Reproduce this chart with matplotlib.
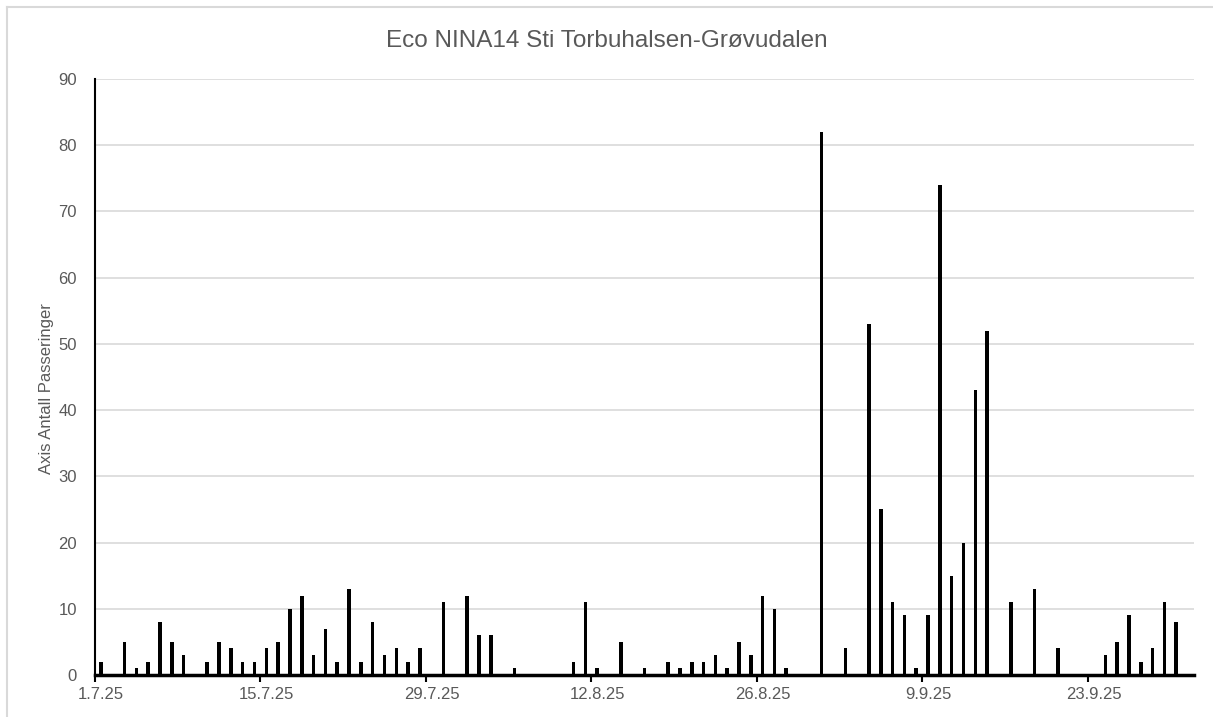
import pandas as pd
import matplotlib
matplotlib.use("Agg")
import matplotlib.pyplot as plt
from matplotlib.lines import Line2D

plt.rcParams["font.family"] = ["Liberation Sans", "DejaVu Sans"]

# daglige passeringer (dager uten passeringer er utelatt)
dates = ["1.7.25", "3.7.25", "4.7.25", "5.7.25", "6.7.25", "7.7.25", "8.7.25",
         "10.7.25", "11.7.25", "12.7.25", "13.7.25", "14.7.25", "15.7.25", "16.7.25",
         "17.7.25", "18.7.25", "19.7.25", "20.7.25", "21.7.25", "22.7.25", "23.7.25",
         "24.7.25", "25.7.25", "26.7.25", "27.7.25", "28.7.25", "30.7.25",
         "1.8.25", "2.8.25", "3.8.25", "5.8.25", "10.8.25", "11.8.25", "12.8.25",
         "14.8.25", "16.8.25", "18.8.25", "19.8.25", "20.8.25", "21.8.25", "22.8.25",
         "23.8.25", "24.8.25", "25.8.25", "26.8.25", "27.8.25", "28.8.25", "31.8.25",
         "2.9.25", "4.9.25", "5.9.25", "6.9.25", "7.9.25", "8.9.25", "9.9.25",
         "10.9.25", "11.9.25", "12.9.25", "13.9.25", "14.9.25", "16.9.25", "18.9.25",
         "20.9.25", "24.9.25", "25.9.25", "26.9.25", "27.9.25", "28.9.25", "29.9.25",
         "30.9.25"]
counts = [2, 5, 1, 2, 8, 5, 3,
          2, 5, 4, 2, 2, 4, 5,
          10, 12, 3, 7, 2, 13, 2,
          8, 3, 4, 2, 4, 11,
          12, 6, 6, 1, 2, 11, 1,
          5, 1, 2, 1, 2, 2, 3,
          1, 5, 3, 12, 10, 1, 82,
          4, 53, 25, 11, 9, 1, 9,
          74, 15, 20, 43, 52, 11, 13,
          4, 3, 5, 9, 2, 4, 11,
          8]

start = "1.7.25"
end = "1.10.25"
tick_step = 14

x = pd.to_datetime(dates, format="%d.%m.%y")
x0 = pd.to_datetime(start, format="%d.%m.%y")
x1 = pd.to_datetime(end, format="%d.%m.%y")
half = pd.Timedelta(hours=12)

grey = "#595959"

fig = plt.figure(figsize=(12.13, 7.17), dpi=100)
ax = fig.add_axes([0.0783, 0.0586, 0.9060, 0.8312])

ax.bar(x, counts, width=0.3, color="black", zorder=3)

ax.set_xlim(x0 - half, x1 + half)
ax.set_ylim(0, 90)
ax.set_yticks(range(0, 91, 10))
ax.grid(axis="y", color="#d9d9d9", linewidth=1.2, zorder=0)

major = pd.date_range(x0, x1, freq=f"{tick_step}D")
ax.set_xticks(major)
ax.set_xticklabels([f"{d.day}.{d.month}.{d.strftime('%y')}" for d in major])
ax.set_xticks(major - half, minor=True)
ax.tick_params(axis="x", which="major", length=0, pad=9, labelsize=12, labelcolor=grey)
ax.tick_params(axis="x", which="minor", length=5, width=1.5, direction="out", color="black")
ax.tick_params(axis="y", length=0, pad=13, labelsize=12, labelcolor=grey)

for s in ["top", "right"]:
    ax.spines[s].set_visible(False)
ax.spines["left"].set_linewidth(1.5)
ax.spines["bottom"].set_linewidth(2.5)
ax.spines["left"].set_zorder(4)
ax.spines["bottom"].set_zorder(4)

ax.set_ylabel("Axis Antall Passeringer", fontsize=12, color=grey)
ax.yaxis.set_label_coords(-0.037, 0.48)
fig.text(0.5, 0.943, "Eco NINA14 Sti Torbuhalsen-Grøvudalen", ha="center", va="center",
         fontsize=17.5, color=grey)

# ramme rundt diagrammet (bare topp og venstre er synlig)
bx, by = 7 / 1213, 1 - 7 / 717
fig.add_artist(Line2D([bx, 1], [by, by], transform=fig.transFigure, color="#d9d9d9", linewidth=1.5))
fig.add_artist(Line2D([bx, bx], [0, by], transform=fig.transFigure, color="#d9d9d9", linewidth=1.5))

fig.savefig("out.png", dpi=100)
